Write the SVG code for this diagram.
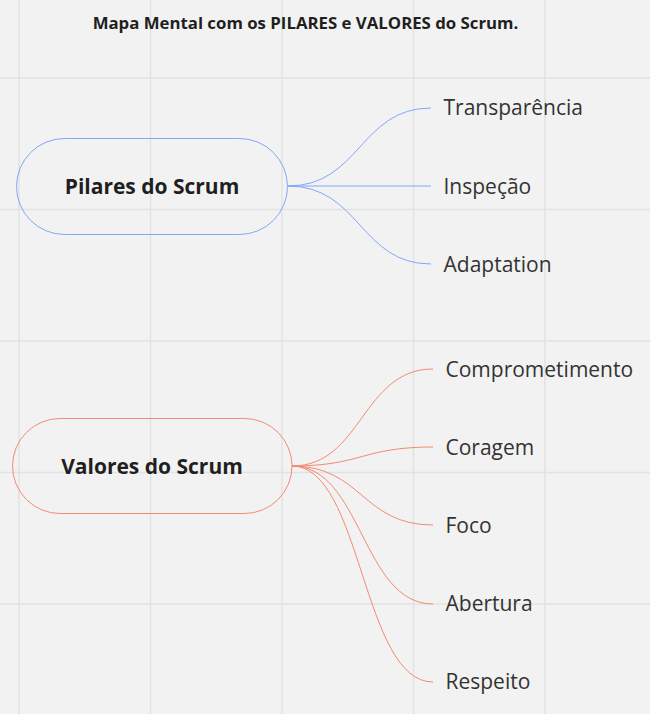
<svg xmlns="http://www.w3.org/2000/svg" width="650" height="714" viewBox="0 0 650 714">
<style>
.grid{stroke:#e2e2e2;stroke-width:1.5;fill:none}
.title{font-family:"Open Sans","Liberation Sans",sans-serif;font-weight:bold;font-size:16.8px;fill:#1f1f1f}
.root{font-family:"Open Sans","Liberation Sans",sans-serif;font-weight:bold;font-size:21px;fill:#1f1f1f}
.leaf{font-family:"Open Sans","Liberation Sans",sans-serif;font-weight:400;font-size:21px;fill:#333333}
.blue{stroke:#80a8f8;stroke-width:1;fill:none}
.red{stroke:#f48a72;stroke-width:1;fill:none}
</style>
<rect width="650" height="714" fill="#f2f2f2"/>
<g id="grid">
<path class="grid" d="M19,0V714M150.5,0V714M282,0V714M413.5,0V714M545,0V714M0,78H650M0,209.5H650M0,341H650M0,472.5H650M0,604H650"/>
</g>
<text class="title" x="305.5" y="28.5" text-anchor="middle">Mapa Mental com os PILARES e VALORES do Scrum.</text>
<g id="connectors">
<path class="blue" d="M288,186 C360,186 360,108 431,108"/>
<path class="blue" d="M288,186 L431,186"/>
<path class="blue" d="M288,186 C360,186 360,264 431,264"/>
<path class="red" d="M292,466 C362,466 362,369 433,369"/>
<path class="red" d="M292,466 C362,466 362,447 433,447"/>
<path class="red" d="M292,466 C362,466 362,525 433,525"/>
<path class="red" d="M292,466 C362,466 362,604 433,604"/>
<path class="red" d="M292,466 C362,466 362,682 433,682"/>
</g>
<g id="pilares">
<rect x="16.5" y="138.5" width="271" height="96" rx="48" fill="none" stroke="#80a8f8" stroke-width="1"/>
<text class="root" x="152" y="194" text-anchor="middle">Pilares do Scrum</text>
</g>
<g id="valores">
<rect x="12.5" y="418.5" width="279.5" height="95" rx="47.5" fill="none" stroke="#f48a72" stroke-width="1"/>
<text class="root" x="152" y="473.5" text-anchor="middle">Valores do Scrum</text>
</g>
<g id="transparencia"><text class="leaf" x="443.5" y="115">Transparência</text></g>
<g id="inspecao"><text class="leaf" x="443.5" y="193.5">Inspeção</text></g>
<g id="adaptation"><text class="leaf" x="443.5" y="272">Adaptation</text></g>
<g id="comprometimento"><text class="leaf" x="445.5" y="376.5">Comprometimento</text></g>
<g id="coragem"><text class="leaf" x="445.5" y="455">Coragem</text></g>
<g id="foco"><text class="leaf" x="445.5" y="533">Foco</text></g>
<g id="abertura"><text class="leaf" x="445.5" y="611">Abertura</text></g>
<g id="respeito"><text class="leaf" x="445.5" y="689">Respeito</text></g>
</svg>
